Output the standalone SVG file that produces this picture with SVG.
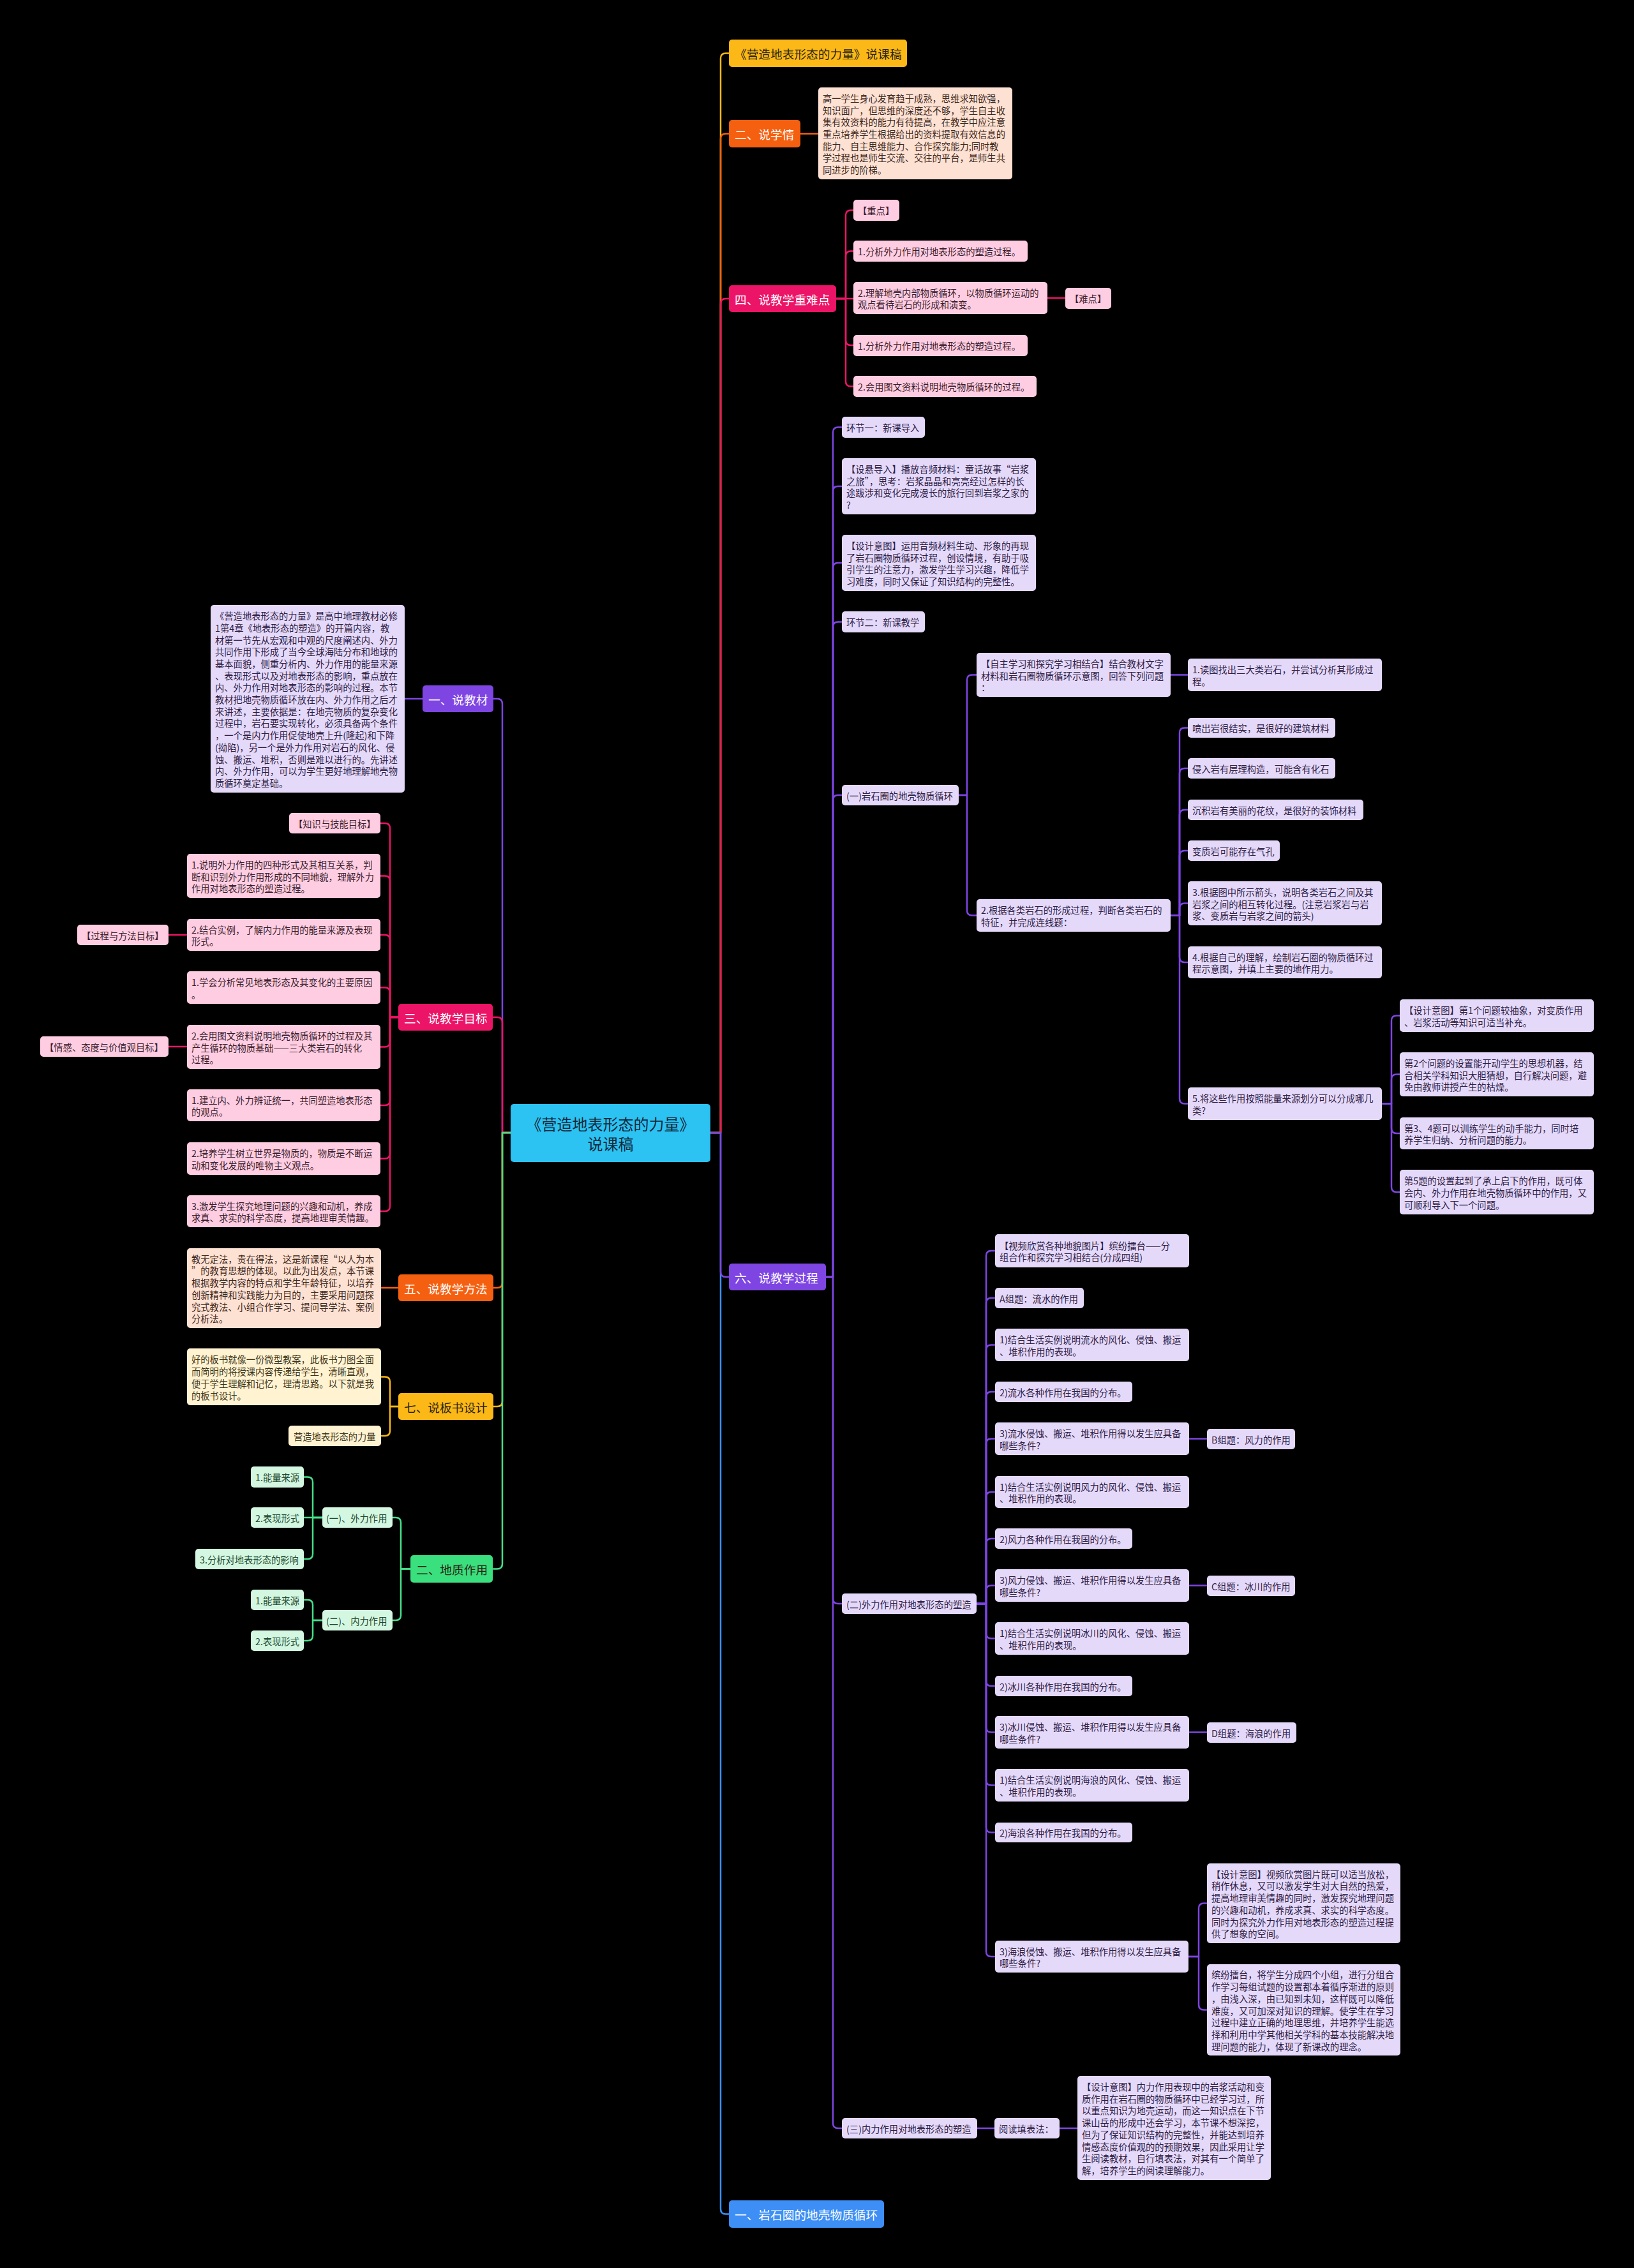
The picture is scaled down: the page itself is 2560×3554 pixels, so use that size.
<svg xmlns="http://www.w3.org/2000/svg" width="2560" height="3554" viewBox="0 0 2560 3554">
<style>
text{font-family:"Noto Sans CJK SC","Noto Sans",sans-serif;dominant-baseline:central}
.t{font-size:14.3px}
.tm{font-size:18.7px;fill:#fff}
.tmd{font-size:18.7px;fill:#2a2412}
.tr{font-size:24px;fill:#12283a}
rect{rx:5px;ry:5px}
.lav{fill:#E5D9FA}.tl{fill:#2e2145}
.pk{fill:#FFCDE2}.tk{fill:#3b1d2b}
.pe{fill:#FDE1D3}.te{fill:#40281a}
.cr{fill:#FFF3D2}.tc{fill:#403517}
.gr{fill:#D3F7E1}.tg{fill:#1f4a31}
.mp{fill:#7E45E3}.mk{fill:#EC1466}.mo{fill:#F56010}.ma{fill:#FBB817}.mg{fill:#3ADF7E}.mb{fill:#3D8EF5}.mc{fill:#2CC2F2}
.c{fill:none;stroke-width:2.5;stroke-linecap:round;stroke-linejoin:round}
.cp{stroke:#7E45E3}.ck{stroke:#EC1466}.co{stroke:#F56010}.ca{stroke:#F8B815}.cg{stroke:#45E08A}.cb{stroke:#3D8EF5}
</style>
<rect x="0" y="0" width="2560" height="3554" style="fill:#000;rx:0;ry:0"/>

<g id="connectors">
<!-- right trunk -->
<path class="c ca" d="M1113 1775 H1129 V91.5 Q1129 83.5 1137 83.5 H1142"/>
<path class="c co" d="M1113 1775 H1129 V217.5 Q1129 209.5 1137 209.5 H1142"/>
<path class="c ck" d="M1113 1775 H1129 V476 Q1129 468 1137 468 H1142"/>
<path class="c cb" d="M1113 1775 H1129 V3461.5 Q1129 3469.5 1137 3469.5 H1142"/>
<path class="c cp" d="M1113 1775 H1129 V1993 Q1129 2001 1137 2001 H1142"/>
<!-- 二 说学情 -->
<path class="c co" d="M1254 209.5 H1282"/>
<!-- 四 -->
<path class="c ck" d="M1310 468 H1325 V337.5 Q1325 329.5 1333 329.5 H1337"/>
<path class="c ck" d="M1310 468 H1325 V401.5 Q1325 393.5 1333 393.5 H1337"/>
<path class="c ck" d="M1310 468 H1337"/>
<path class="c ck" d="M1310 468 H1325 V533 Q1325 541 1333 541 H1337"/>
<path class="c ck" d="M1310 468 H1325 V597.5 Q1325 605.5 1333 605.5 H1337"/>
<path class="c ck" d="M1641 467 H1669"/>
<!-- 六 -->
<path class="c cp" d="M1294 2001 H1305 V677.5 Q1305 669.5 1313 669.5 H1319"/>
<path class="c cp" d="M1294 2001 H1305 V770 Q1305 762 1313 762 H1319"/>
<path class="c cp" d="M1294 2001 H1305 V890 Q1305 882 1313 882 H1319"/>
<path class="c cp" d="M1294 2001 H1305 V982.5 Q1305 974.5 1313 974.5 H1319"/>
<path class="c cp" d="M1294 2001 H1305 V1254 Q1305 1246 1313 1246 H1319"/>
<path class="c cp" d="M1294 2001 H1305 V2505 Q1305 2513 1313 2513 H1319"/>
<path class="c cp" d="M1294 2001 H1305 V3327 Q1305 3335 1313 3335 H1319"/>
<!-- (一) -->
<path class="c cp" d="M1502 1246 H1515 V1065.5 Q1515 1057.5 1523 1057.5 H1530"/>
<path class="c cp" d="M1502 1246 H1515 V1426.5 Q1515 1434.5 1523 1434.5 H1530"/>
<path class="c cp" d="M1834 1057.5 H1861"/>
<path class="c cp" d="M1834 1434.5 H1848 V1148.5 Q1848 1140.5 1856 1140.5 H1861"/>
<path class="c cp" d="M1834 1434.5 H1848 V1212 Q1848 1204 1856 1204 H1861"/>
<path class="c cp" d="M1834 1434.5 H1848 V1277 Q1848 1269 1856 1269 H1861"/>
<path class="c cp" d="M1834 1434.5 H1848 V1341 Q1848 1333 1856 1333 H1861"/>
<path class="c cp" d="M1834 1434.5 H1848 V1423.5 Q1848 1415.5 1856 1415.5 H1861"/>
<path class="c cp" d="M1834 1434.5 H1848 V1500 Q1848 1508 1856 1508 H1861"/>
<path class="c cp" d="M1834 1434.5 H1848 V1721.5 Q1848 1729.5 1856 1729.5 H1861"/>
<path class="c cp" d="M2165 1729.5 H2180 V1599.5 Q2180 1591.5 2188 1591.5 H2193"/>
<path class="c cp" d="M2165 1729.5 H2180 V1691.5 Q2180 1683.5 2188 1683.5 H2193"/>
<path class="c cp" d="M2165 1729.5 H2180 V1768 Q2180 1776 2188 1776 H2193"/>
<path class="c cp" d="M2165 1729.5 H2180 V1860 Q2180 1868 2188 1868 H2193"/>
<!-- (二) -->
<path class="c cp" d="M1530 2513 H1545 V1968 Q1545 1960 1553 1960 H1559"/>
<path class="c cp" d="M1530 2513 H1545 V2042 Q1545 2034 1553 2034 H1559"/>
<path class="c cp" d="M1530 2513 H1545 V2115.5 Q1545 2107.5 1553 2107.5 H1559"/>
<path class="c cp" d="M1530 2513 H1545 V2189 Q1545 2181 1553 2181 H1559"/>
<path class="c cp" d="M1530 2513 H1545 V2262.5 Q1545 2254.5 1553 2254.5 H1559"/>
<path class="c cp" d="M1530 2513 H1545 V2346 Q1545 2338 1553 2338 H1559"/>
<path class="c cp" d="M1530 2513 H1545 V2419 Q1545 2411 1553 2411 H1559"/>
<path class="c cp" d="M1530 2513 H1545 V2492.5 Q1545 2484.5 1553 2484.5 H1559"/>
<path class="c cp" d="M1530 2513 H1545 V2559.5 Q1545 2567.5 1553 2567.5 H1559"/>
<path class="c cp" d="M1530 2513 H1545 V2634 Q1545 2642 1553 2642 H1559"/>
<path class="c cp" d="M1530 2513 H1545 V2706.5 Q1545 2714.5 1553 2714.5 H1559"/>
<path class="c cp" d="M1530 2513 H1545 V2789.5 Q1545 2797.5 1553 2797.5 H1559"/>
<path class="c cp" d="M1530 2513 H1545 V2863.5 Q1545 2871.5 1553 2871.5 H1559"/>
<path class="c cp" d="M1530 2513 H1545 V3058 Q1545 3066 1553 3066 H1559"/>
<path class="c cp" d="M1863 2254.5 H1891"/>
<path class="c cp" d="M1863 2484.5 H1891"/>
<path class="c cp" d="M1863 2714.5 H1891"/>
<path class="c cp" d="M1862 3066 H1878 V2990.5 Q1878 2982.5 1886 2982.5 H1891"/>
<path class="c cp" d="M1862 3066 H1878 V3141.5 Q1878 3149.5 1886 3149.5 H1891"/>
<!-- (三) -->
<path class="c cp" d="M1531 3335 H1558"/>
<path class="c cp" d="M1660 3335 H1688"/>
<!-- left trunk -->
<path class="c cp" d="M800 1775 H787 V1103 Q787 1095 779 1095 H773"/>
<path class="c ck" d="M800 1775 H787 V1602 Q787 1594 779 1594 H773"/>
<path class="c ca" d="M800 1775 H787 V2196 Q787 2204 779 2204 H773"/>
<path class="c co" d="M800 1775 H787 V2010 Q787 2018 779 2018 H773"/>
<path class="c cg" d="M800 1775 H787 V2450.5 Q787 2458.5 779 2458.5 H773"/>
<path class="c cp" d="M662 1095 H634"/>
<!-- 三 -->
<path class="c ck" d="M624 1594 H611 V1298 Q611 1290 603 1290 H596"/>
<path class="c ck" d="M624 1594 H611 V1380.5 Q611 1372.5 603 1372.5 H596"/>
<path class="c ck" d="M624 1594 H611 V1473 Q611 1465 603 1465 H596"/>
<path class="c ck" d="M624 1594 H611 V1555.5 Q611 1547.5 603 1547.5 H596"/>
<path class="c ck" d="M624 1594 H611 V1632.5 Q611 1640.5 603 1640.5 H596"/>
<path class="c ck" d="M624 1594 H611 V1724 Q611 1732 603 1732 H596"/>
<path class="c ck" d="M624 1594 H611 V1807.5 Q611 1815.5 603 1815.5 H596"/>
<path class="c ck" d="M624 1594 H611 V1890 Q611 1898 603 1898 H596"/>
<path class="c ck" d="M293 1465 H264"/>
<path class="c ck" d="M293 1640 H264"/>
<!-- 五 七 -->
<path class="c co" d="M624 2018 H597"/>
<path class="c ca" d="M624 2204 H611 V2165.5 Q611 2157.5 603 2157.5 H597"/>
<path class="c ca" d="M624 2204 H611 V2242 Q611 2250 603 2250 H597"/>
<!-- 地质作用 -->
<path class="c cg" d="M643 2458.5 H628 V2386 Q628 2378 620 2378 H615"/>
<path class="c cg" d="M643 2458.5 H628 V2531 Q628 2539 620 2539 H615"/>
<path class="c cg" d="M505 2378 H490 V2322.5 Q490 2314.5 482 2314.5 H476"/>
<path class="c cg" d="M505 2378 H476"/>
<path class="c cg" d="M505 2378 H490 V2435 Q490 2443 482 2443 H476"/>
<path class="c cg" d="M505 2539 H490 V2515 Q490 2507 482 2507 H476"/>
<path class="c cg" d="M505 2539 H490 V2563 Q490 2571 482 2571 H476"/>
</g>

<!-- ROOT -->
<g id="root"><rect class="mc" x="800" y="1730" width="313" height="91"/>
<text class="tr" x="956.5" y="1760" text-anchor="middle">《营造地表形态的力量》</text>
<text class="tr" x="956.5" y="1791" text-anchor="middle">说课稿</text></g>

<!-- RIGHT -->
<g id="n-title"><rect class="ma" x="1142" y="62" width="279" height="43"/><text class="tmd" x="1151" y="83.5">《营造地表形态的力量》说课稿</text></g>
<g id="n-xueqing"><rect class="mo" x="1142" y="188" width="112" height="43"/><text class="tm" x="1151" y="209.5">二、说学情</text></g>
<g id="n-xueqing-t"><rect class="pe" x="1282" y="137" width="304" height="144"/>
<text class="t te" x="1289" y="152.9"><tspan x="1289">高一学生身心发育趋于成熟，思维求知欲强，</tspan><tspan x="1289" dy="18.7">知识面广，但思维的深度还不够，学生自主收</tspan><tspan x="1289" dy="18.7">集有效资料的能力有待提高，在教学中应注意</tspan><tspan x="1289" dy="18.7">重点培养学生根据给出的资料提取有效信息的</tspan><tspan x="1289" dy="18.7">能力、自主思维能力、合作探究能力;同时教</tspan><tspan x="1289" dy="18.7">学过程也是师生交流、交往的平台，是师生共</tspan><tspan x="1289" dy="18.7">同进步的阶梯。</tspan></text></g>

<g id="n-zhongnan"><rect class="mk" x="1142" y="447" width="168" height="42"/><text class="tm" x="1151" y="468">四、说教学重难点</text></g>
<g id="n-zd"><rect class="pk" x="1337" y="313" width="72" height="33"/><text class="t tk" x="1344" y="329.5">【重点】</text></g>
<g id="n-zd1"><rect class="pk" x="1337" y="377" width="273" height="33"/><text class="t tk" x="1344" y="393.5">1.分析外力作用对地表形态的塑造过程。</text></g>
<g id="n-zd2"><rect class="pk" x="1337" y="442" width="304" height="50"/><text class="t tk" x="1344" y="457.65"><tspan x="1344">2.理解地壳内部物质循环，以物质循环运动的</tspan><tspan x="1344" dy="18.7">观点看待岩石的形成和演变。</tspan></text></g>
<g id="n-nd"><rect class="pk" x="1669" y="451" width="72" height="33"/><text class="t tk" x="1676" y="467.5">【难点】</text></g>
<g id="n-zd3"><rect class="pk" x="1337" y="525" width="273" height="33"/><text class="t tk" x="1344" y="541.5">1.分析外力作用对地表形态的塑造过程。</text></g>
<g id="n-zd4"><rect class="pk" x="1337" y="589" width="287" height="33"/><text class="t tk" x="1344" y="605.5">2.会用图文资料说明地壳物质循环的过程。</text></g>

<g id="n-guocheng"><rect class="mp" x="1142" y="1980" width="152" height="42"/><text class="tm" x="1151" y="2001">六、说教学过程</text></g>
<g id="n-hj1"><rect class="lav" x="1319" y="653" width="130" height="33"/><text class="t tl" x="1326" y="669.5">环节一：新课导入</text></g>
<g id="n-sx"><rect class="lav" x="1319" y="718" width="304" height="88"/><text class="t tl" x="1326" y="734"><tspan x="1326">【设悬导入】播放音频材料：童话故事“岩浆</tspan><tspan x="1326" dy="18.7">之旅”，思考：岩浆晶晶和亮亮经过怎样的长</tspan><tspan x="1326" dy="18.7">途跋涉和变化完成漫长的旅行回到岩浆之家的</tspan><tspan x="1326" dy="18.7">?</tspan></text></g>
<g id="n-sj1"><rect class="lav" x="1319" y="838" width="304" height="88"/><text class="t tl" x="1326" y="854"><tspan x="1326">【设计意图】运用音频材料生动、形象的再现</tspan><tspan x="1326" dy="18.7">了岩石圈物质循环过程，创设情境，有助于吸</tspan><tspan x="1326" dy="18.7">引学生的注意力，激发学生学习兴趣，降低学</tspan><tspan x="1326" dy="18.7">习难度，同时又保证了知识结构的完整性。</tspan></text></g>
<g id="n-hj2"><rect class="lav" x="1319" y="958" width="130" height="33"/><text class="t tl" x="1326" y="974.5">环节二：新课教学</text></g>

<g id="n-y1"><rect class="lav" x="1319" y="1230" width="183" height="32"/><text class="t tl" x="1326" y="1246">(一)岩石圈的地壳物质循环</text></g>
<g id="n-zz"><rect class="lav" x="1530" y="1023" width="304" height="69"/><text class="t tl" x="1537" y="1038.8"><tspan x="1537">【自主学习和探究学习相结合】结合教材文字</tspan><tspan x="1537" dy="18.7">材料和岩石圈物质循环示意图，回答下列问题</tspan><tspan x="1537" dy="18.7">：</tspan></text></g>
<g id="n-dt"><rect class="lav" x="1861" y="1032" width="304" height="51"/><text class="t tl" x="1868" y="1048.15"><tspan x="1868">1.读图找出三大类岩石，并尝试分析其形成过</tspan><tspan x="1868" dy="18.7">程。</tspan></text></g>
<g id="n-gj"><rect class="lav" x="1530" y="1409" width="304" height="51"/><text class="t tl" x="1537" y="1425.2"><tspan x="1537">2.根据各类岩石的形成过程，判断各类岩石的</tspan><tspan x="1537" dy="18.7">特征，并完成连线题：</tspan></text></g>
<g id="n-pc"><rect class="lav" x="1861" y="1125" width="231" height="31"/><text class="t tl" x="1868" y="1140.5">喷出岩很结实，是很好的建筑材料</text></g>
<g id="n-qr"><rect class="lav" x="1861" y="1188" width="231" height="32"/><text class="t tl" x="1868" y="1204">侵入岩有层理构造，可能含有化石</text></g>
<g id="n-cj"><rect class="lav" x="1861" y="1253" width="275" height="32"/><text class="t tl" x="1868" y="1269">沉积岩有美丽的花纹，是很好的装饰材料</text></g>
<g id="n-bz"><rect class="lav" x="1861" y="1317" width="144" height="32"/><text class="t tl" x="1868" y="1333">变质岩可能存在气孔</text></g>
<g id="n-q3"><rect class="lav" x="1861" y="1381" width="304" height="69"/><text class="t tl" x="1868" y="1396.8"><tspan x="1868">3.根据图中所示箭头，说明各类岩石之间及其</tspan><tspan x="1868" dy="18.7">岩浆之间的相互转化过程。(注意岩浆岩与岩</tspan><tspan x="1868" dy="18.7">浆、变质岩与岩浆之间的箭头)</tspan></text></g>
<g id="n-q4"><rect class="lav" x="1861" y="1483" width="304" height="50"/><text class="t tl" x="1868" y="1498.65"><tspan x="1868">4.根据自己的理解，绘制岩石圈的物质循环过</tspan><tspan x="1868" dy="18.7">程示意图，并填上主要的地作用力。</tspan></text></g>
<g id="n-q5"><rect class="lav" x="1861" y="1704" width="304" height="51"/><text class="t tl" x="1868" y="1720.2"><tspan x="1868">5.将这些作用按照能量来源划分可以分成哪几</tspan><tspan x="1868" dy="18.7">类?</tspan></text></g>
<g id="n-s1"><rect class="lav" x="2193" y="1566" width="304" height="51"/><text class="t tl" x="2200" y="1582.2"><tspan x="2200">【设计意图】第1个问题较抽象，对变质作用</tspan><tspan x="2200" dy="18.7">、岩浆活动等知识可适当补充。</tspan></text></g>
<g id="n-s2"><rect class="lav" x="2193" y="1649" width="304" height="69"/><text class="t tl" x="2200" y="1664.8"><tspan x="2200">第2个问题的设置能开动学生的思想机器，结</tspan><tspan x="2200" dy="18.7">合相关学科知识大胆猜想，自行解决问题，避</tspan><tspan x="2200" dy="18.7">免由教师讲授产生的枯燥。</tspan></text></g>
<g id="n-s3"><rect class="lav" x="2193" y="1751" width="304" height="50"/><text class="t tl" x="2200" y="1766.7"><tspan x="2200">第3、4题可以训练学生的动手能力，同时培</tspan><tspan x="2200" dy="18.7">养学生归纳、分析问题的能力。</tspan></text></g>
<g id="n-s4"><rect class="lav" x="2193" y="1833" width="304" height="70"/><text class="t tl" x="2200" y="1849.3"><tspan x="2200">第5题的设置起到了承上启下的作用，既可体</tspan><tspan x="2200" dy="18.7">会内、外力作用在地壳物质循环中的作用，又</tspan><tspan x="2200" dy="18.7">可顺利导入下一个问题。</tspan></text></g>

<g id="n-e2"><rect class="lav" x="1319" y="2497" width="211" height="32"/><text class="t tl" x="1326" y="2513">(二)外力作用对地表形态的塑造</text></g>
<g id="n-sp"><rect class="lav" x="1559" y="1934" width="304" height="52"/><text class="t tl" x="1566" y="1950.65"><tspan x="1566">【视频欣赏各种地貌图片】缤纷擂台——分</tspan><tspan x="1566" dy="18.7">组合作和探究学习相结合(分成四组)</tspan></text></g>
<g id="n-a"><rect class="lav" x="1559" y="2018" width="139" height="32"/><text class="t tl" x="1566" y="2034">A组题：流水的作用</text></g>
<g id="n-a1"><rect class="lav" x="1559" y="2082" width="304" height="51"/><text class="t tl" x="1566" y="2098.2"><tspan x="1566">1)结合生活实例说明流水的风化、侵蚀、搬运</tspan><tspan x="1566" dy="18.7">、堆积作用的表现。</tspan></text></g>
<g id="n-a2"><rect class="lav" x="1559" y="2165" width="215" height="32"/><text class="t tl" x="1566" y="2181">2)流水各种作用在我国的分布。</text></g>
<g id="n-a3"><rect class="lav" x="1559" y="2229" width="304" height="51"/><text class="t tl" x="1566" y="2245.2"><tspan x="1566">3)流水侵蚀、搬运、堆积作用得以发生应具备</tspan><tspan x="1566" dy="18.7">哪些条件?</tspan></text></g>
<g id="n-b"><rect class="lav" x="1891" y="2239" width="138" height="32"/><text class="t tl" x="1898" y="2255">B组题：风力的作用</text></g>
<g id="n-b1"><rect class="lav" x="1559" y="2313" width="304" height="50"/><text class="t tl" x="1566" y="2328.7"><tspan x="1566">1)结合生活实例说明风力的风化、侵蚀、搬运</tspan><tspan x="1566" dy="18.7">、堆积作用的表现。</tspan></text></g>
<g id="n-b2"><rect class="lav" x="1559" y="2395" width="215" height="32"/><text class="t tl" x="1566" y="2411">2)风力各种作用在我国的分布。</text></g>
<g id="n-b3"><rect class="lav" x="1559" y="2459" width="304" height="51"/><text class="t tl" x="1566" y="2475.2"><tspan x="1566">3)风力侵蚀、搬运、堆积作用得以发生应具备</tspan><tspan x="1566" dy="18.7">哪些条件?</tspan></text></g>
<g id="n-c"><rect class="lav" x="1891" y="2469" width="138" height="32"/><text class="t tl" x="1898" y="2485">C组题：冰川的作用</text></g>
<g id="n-c1"><rect class="lav" x="1559" y="2542" width="304" height="51"/><text class="t tl" x="1566" y="2558.2"><tspan x="1566">1)结合生活实例说明冰川的风化、侵蚀、搬运</tspan><tspan x="1566" dy="18.7">、堆积作用的表现。</tspan></text></g>
<g id="n-c2"><rect class="lav" x="1559" y="2626" width="215" height="32"/><text class="t tl" x="1566" y="2642">2)冰川各种作用在我国的分布。</text></g>
<g id="n-c3"><rect class="lav" x="1559" y="2689" width="304" height="51"/><text class="t tl" x="1566" y="2705.2"><tspan x="1566">3)冰川侵蚀、搬运、堆积作用得以发生应具备</tspan><tspan x="1566" dy="18.7">哪些条件?</tspan></text></g>
<g id="n-d"><rect class="lav" x="1891" y="2699" width="140" height="32"/><text class="t tl" x="1898" y="2715">D组题：海浪的作用</text></g>
<g id="n-d1"><rect class="lav" x="1559" y="2772" width="304" height="51"/><text class="t tl" x="1566" y="2788.2"><tspan x="1566">1)结合生活实例说明海浪的风化、侵蚀、搬运</tspan><tspan x="1566" dy="18.7">、堆积作用的表现。</tspan></text></g>
<g id="n-d2"><rect class="lav" x="1559" y="2856" width="215" height="31"/><text class="t tl" x="1566" y="2871.5">2)海浪各种作用在我国的分布。</text></g>
<g id="n-d3"><rect class="lav" x="1559" y="3041" width="303" height="50"/><text class="t tl" x="1566" y="3056.7"><tspan x="1566">3)海浪侵蚀、搬运、堆积作用得以发生应具备</tspan><tspan x="1566" dy="18.7">哪些条件?</tspan></text></g>
<g id="n-sj2"><rect class="lav" x="1891" y="2920" width="303" height="125"/><text class="t tl" x="1898" y="2935.75"><tspan x="1898">【设计意图】视频欣赏图片既可以适当放松，</tspan><tspan x="1898" dy="18.7">稍作休息，又可以激发学生对大自然的热爱，</tspan><tspan x="1898" dy="18.7">提高地理审美情趣的同时，激发探究地理问题</tspan><tspan x="1898" dy="18.7">的兴趣和动机，养成求真、求实的科学态度。</tspan><tspan x="1898" dy="18.7">同时为探究外力作用对地表形态的塑造过程提</tspan><tspan x="1898" dy="18.7">供了想象的空间。</tspan></text></g>
<g id="n-bf"><rect class="lav" x="1891" y="3078" width="303" height="143"/><text class="t tl" x="1898" y="3093.4"><tspan x="1898">缤纷擂台，将学生分成四个小组，进行分组合</tspan><tspan x="1898" dy="18.7">作学习每组试题的设置都本着循序渐进的原则</tspan><tspan x="1898" dy="18.7">，由浅入深，由已知到未知，这样既可以降低</tspan><tspan x="1898" dy="18.7">难度，又可加深对知识的理解。使学生在学习</tspan><tspan x="1898" dy="18.7">过程中建立正确的地理思维，并培养学生能选</tspan><tspan x="1898" dy="18.7">择和利用中学其他相关学科的基本技能解决地</tspan><tspan x="1898" dy="18.7">理问题的能力，体现了新课改的理念。</tspan></text></g>

<g id="n-e3"><rect class="lav" x="1319" y="3319" width="212" height="32"/><text class="t tl" x="1326" y="3335">(三)内力作用对地表形态的塑造</text></g>
<g id="n-yd"><rect class="lav" x="1558" y="3319" width="102" height="32"/><text class="t tl" x="1565" y="3335">阅读填表法：</text></g>
<g id="n-sj3"><rect class="lav" x="1688" y="3253" width="303" height="163"/><text class="t tl" x="1695" y="3269.05"><tspan x="1695">【设计意图】内力作用表现中的岩浆活动和变</tspan><tspan x="1695" dy="18.7">质作用在岩石圈的物质循环中已经学习过，所</tspan><tspan x="1695" dy="18.7">以重点知识为地壳运动，而这一知识点在下节</tspan><tspan x="1695" dy="18.7">课山岳的形成中还会学习，本节课不想深挖，</tspan><tspan x="1695" dy="18.7">但为了保证知识结构的完整性，并能达到培养</tspan><tspan x="1695" dy="18.7">情感态度价值观的的预期效果，因此采用让学</tspan><tspan x="1695" dy="18.7">生阅读教材，自行填表法，对其有一个简单了</tspan><tspan x="1695" dy="18.7">解，培养学生的阅读理解能力。</tspan></text></g>

<g id="n-yanshi"><rect class="mb" x="1142" y="3448" width="243" height="43"/><text class="tm" x="1151" y="3469.5">一、岩石圈的地壳物质循环</text></g>

<!-- LEFT -->
<g id="n-jiaocai"><rect class="mp" x="662" y="1074" width="111" height="42"/><text class="tm" x="671" y="1095">一、说教材</text></g>
<g id="n-jiaocai-t"><rect class="lav" x="330" y="948" width="304" height="294"/><text class="t tl" x="337" y="964.1"><tspan x="337">《营造地表形态的力量》是高中地理教材必修</tspan><tspan x="337" dy="18.7">1第4章《地表形态的塑造》的开篇内容，教</tspan><tspan x="337" dy="18.7">材第一节先从宏观和中观的尺度阐述内、外力</tspan><tspan x="337" dy="18.7">共同作用下形成了当今全球海陆分布和地球的</tspan><tspan x="337" dy="18.7">基本面貌，侧重分析内、外力作用的能量来源</tspan><tspan x="337" dy="18.7">、表现形式以及对地表形态的影响，重点放在</tspan><tspan x="337" dy="18.7">内、外力作用对地表形态的影响的过程。本节</tspan><tspan x="337" dy="18.7">教材把地壳物质循环放在内、外力作用之后才</tspan><tspan x="337" dy="18.7">来讲述，主要依据是：在地壳物质的复杂变化</tspan><tspan x="337" dy="18.7">过程中，岩石要实现转化，必须具备两个条件</tspan><tspan x="337" dy="18.7">，一个是内力作用促使地壳上升(隆起)和下降</tspan><tspan x="337" dy="18.7">(拗陷)，另一个是外力作用对岩石的风化、侵</tspan><tspan x="337" dy="18.7">蚀、搬运、堆积，否则是难以进行的。先讲述</tspan><tspan x="337" dy="18.7">内、外力作用，可以为学生更好地理解地壳物</tspan><tspan x="337" dy="18.7">质循环奠定基础。</tspan></text></g>

<g id="n-mubiao"><rect class="mk" x="624" y="1573" width="148" height="42"/><text class="tm" x="633" y="1594">三、说教学目标</text></g>
<g id="n-zs"><rect class="pk" x="453" y="1274" width="143" height="32"/><text class="t tk" x="460" y="1290">【知识与技能目标】</text></g>
<g id="n-m1"><rect class="pk" x="293" y="1338" width="303" height="69"/><text class="t tk" x="300" y="1353.8"><tspan x="300">1.说明外力作用的四种形式及其相互关系，判</tspan><tspan x="300" dy="18.7">断和识别外力作用形成的不同地貌，理解外力</tspan><tspan x="300" dy="18.7">作用对地表形态的塑造过程。</tspan></text></g>
<g id="n-m2"><rect class="pk" x="293" y="1440" width="303" height="50"/><text class="t tk" x="300" y="1455.65"><tspan x="300">2.结合实例，了解内力作用的能量来源及表现</tspan><tspan x="300" dy="18.7">形式。</tspan></text></g>
<g id="n-gc"><rect class="pk" x="121" y="1449" width="143" height="32"/><text class="t tk" x="128" y="1465">【过程与方法目标】</text></g>
<g id="n-m3"><rect class="pk" x="293" y="1522" width="303" height="51"/><text class="t tk" x="300" y="1538.2"><tspan x="300">1.学会分析常见地表形态及其变化的主要原因</tspan><tspan x="300" dy="18.7">。</tspan></text></g>
<g id="n-m4"><rect class="pk" x="293" y="1606" width="303" height="69"/><text class="t tk" x="300" y="1621.8"><tspan x="300">2.会用图文资料说明地壳物质循环的过程及其</tspan><tspan x="300" dy="18.7">产生循环的物质基础——三大类岩石的转化</tspan><tspan x="300" dy="18.7">过程。</tspan></text></g>
<g id="n-qg"><rect class="pk" x="63" y="1624" width="201" height="32"/><text class="t tk" x="70" y="1640">【情感、态度与价值观目标】</text></g>
<g id="n-m5"><rect class="pk" x="293" y="1707" width="303" height="50"/><text class="t tk" x="300" y="1722.65"><tspan x="300">1.建立内、外力辨证统一，共同塑造地表形态</tspan><tspan x="300" dy="18.7">的观点。</tspan></text></g>
<g id="n-m6"><rect class="pk" x="293" y="1790" width="303" height="51"/><text class="t tk" x="300" y="1806.2"><tspan x="300">2.培养学生树立世界是物质的，物质是不断运</tspan><tspan x="300" dy="18.7">动和变化发展的唯物主义观点。</tspan></text></g>
<g id="n-m7"><rect class="pk" x="293" y="1873" width="303" height="50"/><text class="t tk" x="300" y="1888.65"><tspan x="300">3.激发学生探究地理问题的兴趣和动机，养成</tspan><tspan x="300" dy="18.7">求真、求实的科学态度，提高地理审美情趣。</tspan></text></g>

<g id="n-fangfa"><rect class="mo" x="624" y="1997" width="149" height="42"/><text class="tm" x="633" y="2018">五、说教学方法</text></g>
<g id="n-fangfa-t"><rect class="pe" x="293" y="1956" width="304" height="125"/><text class="t te" x="300" y="1971.75"><tspan x="300">教无定法，贵在得法，这是新课程“以人为本</tspan><tspan x="300" dy="18.7">”的教育思想的体现。以此为出发点，本节课</tspan><tspan x="300" dy="18.7">根据教学内容的特点和学生年龄特征，以培养</tspan><tspan x="300" dy="18.7">创新精神和实践能力为目的，主要采用问题探</tspan><tspan x="300" dy="18.7">究式教法、小组合作学习、提问导学法、案例</tspan><tspan x="300" dy="18.7">分析法。</tspan></text></g>

<g id="n-banshu"><rect class="ma" x="624" y="2183" width="149" height="42"/><text class="tmd" x="633" y="2204">七、说板书设计</text></g>
<g id="n-banshu-t"><rect class="cr" x="293" y="2113" width="304" height="89"/><text class="t tc" x="300" y="2129.45"><tspan x="300">好的板书就像一份微型教案，此板书力图全面</tspan><tspan x="300" dy="18.7">而简明的将授课内容传递给学生，清晰直观，</tspan><tspan x="300" dy="18.7">便于学生理解和记忆，理清思路。以下就是我</tspan><tspan x="300" dy="18.7">的板书设计。</tspan></text></g>
<g id="n-banshu-2"><rect class="cr" x="452" y="2234" width="145" height="32"/><text class="t tc" x="460" y="2250">营造地表形态的力量</text></g>

<g id="n-dizhi"><rect class="mg" x="643" y="2437" width="129" height="43"/><text class="tmd" x="652" y="2458.5">二、地质作用</text></g>
<g id="n-wl"><rect class="gr" x="505" y="2362" width="110" height="32"/><text class="t tg" x="511" y="2378">(一)、外力作用</text></g>
<g id="n-nl"><rect class="gr" x="505" y="2523" width="110" height="32"/><text class="t tg" x="511" y="2539">(二)、内力作用</text></g>
<g id="n-wl1"><rect class="gr" x="393" y="2298" width="83" height="33"/><text class="t tg" x="400" y="2314.5">1.能量来源</text></g>
<g id="n-wl2"><rect class="gr" x="393" y="2362" width="83" height="32"/><text class="t tg" x="400" y="2378">2.表现形式</text></g>
<g id="n-wl3"><rect class="gr" x="306" y="2427" width="170" height="32"/><text class="t tg" x="313" y="2443">3.分析对地表形态的影响</text></g>
<g id="n-nl1"><rect class="gr" x="393" y="2491" width="83" height="32"/><text class="t tg" x="400" y="2507">1.能量来源</text></g>
<g id="n-nl2"><rect class="gr" x="393" y="2555" width="83" height="32"/><text class="t tg" x="400" y="2571">2.表现形式</text></g>
</svg>
